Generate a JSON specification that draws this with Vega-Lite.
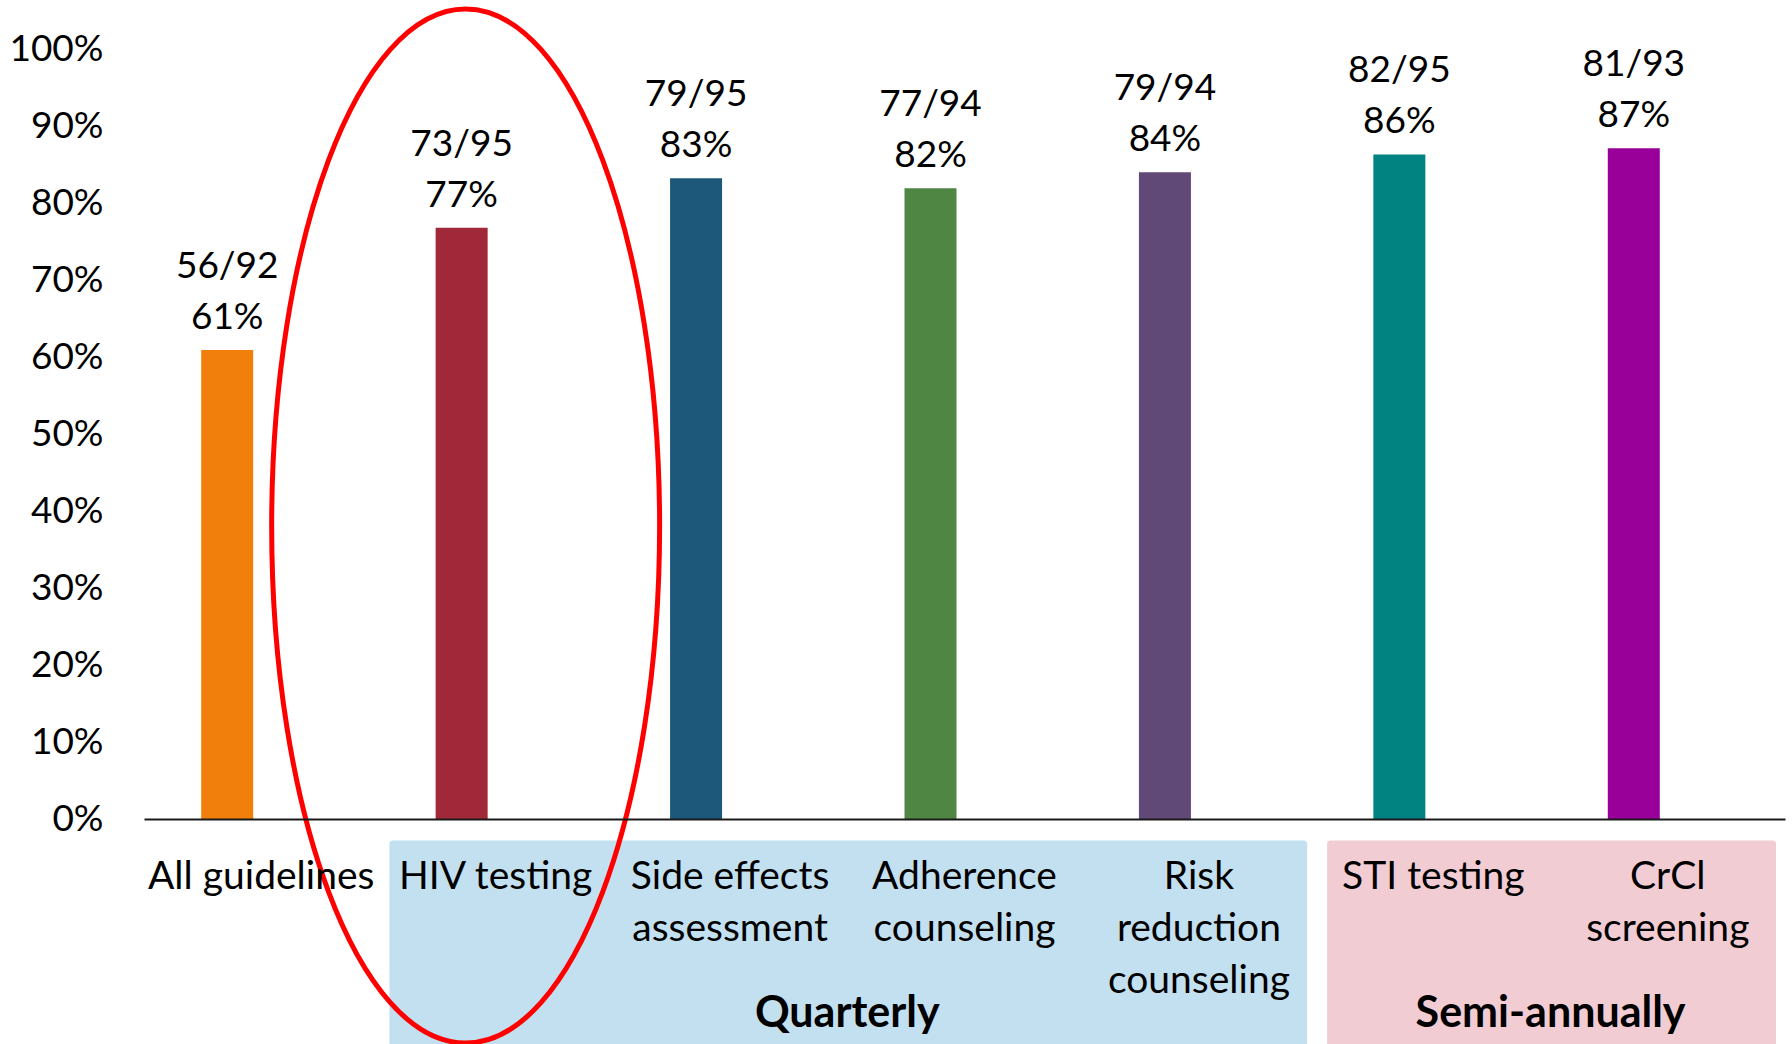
{
  "$schema": "https://vega.github.io/schema/vega-lite/v6.json",
  "autosize": {"type": "none"},
  "padding": {"left": 144, "top": 49, "right": 7, "bottom": 225},
  "width": 1641,
  "height": 770,
  "background": "white",
  "config": {"view": {"stroke": null}, "font": "Lato"},
  "resolve": {"scale": {"color": "independent"}},
  "datasets": {
    "bars": [
      {"cat": "All guidelines", "pct": 60.9, "frac": "56/92", "pctLabel": "61%"},
      {"cat": "HIV testing", "pct": 76.8, "frac": "73/95", "pctLabel": "77%"},
      {"cat": "Side effects assessment", "pct": 83.2, "frac": "79/95", "pctLabel": "83%"},
      {"cat": "Adherence counseling", "pct": 81.9, "frac": "77/94", "pctLabel": "82%"},
      {"cat": "Risk reduction counseling", "pct": 84.0, "frac": "79/94", "pctLabel": "84%"},
      {"cat": "STI testing", "pct": 86.3, "frac": "82/95", "pctLabel": "86%"},
      {"cat": "CrCl screening", "pct": 87.1, "frac": "81/93", "pctLabel": "87%"}
    ],
    "groups": [
      {"group": "Quarterly", "first": "HIV testing", "last": "Risk reduction counseling", "mid": "Side effects assessment"},
      {"group": "Semi-annually", "first": "STI testing", "last": "CrCl screening", "mid": "STI testing"}
    ],
    "highlight": [
      {"cat": "HIV testing"}
    ]
  },
  "layer": [
    {
      "data": {"name": "groups"},
      "mark": {"type": "rect", "xOffset": 11, "x2Offset": -9, "cornerRadius": 3},
      "encoding": {
        "x": {"field": "first", "type": "nominal", "scale": {"type": "band", "domain": ["All guidelines", "HIV testing", "Side effects assessment", "Adherence counseling", "Risk reduction counseling", "STI testing", "CrCl screening"], "paddingInner": 0, "paddingOuter": 0}, "bandPosition": 0},
        "x2": {"field": "last", "bandPosition": 1},
        "y": {"datum": -2.8, "type": "quantitative"},
        "y2": {"datum": -32},
        "fill": {"field": "group", "type": "nominal", "scale": {"domain": ["Quarterly", "Semi-annually"], "range": ["#C3E0F1", "#F2CCD3"]}, "legend": null}
      }
    },
    {
      "data": {"name": "groups"},
      "mark": {"type": "text", "fontSize": 43, "fontWeight": "bold", "font": "Lato", "baseline": "alphabetic", "align": "center", "color": "#000000"},
      "encoding": {
        "x": {"field": "mid", "type": "nominal", "bandPosition": 1},
        "y": {"datum": -27, "type": "quantitative"},
        "text": {"field": "group"}
      }
    },
    {
      "data": {"name": "bars"},
      "mark": {"type": "bar", "width": 52, "xOffset": -34},
      "encoding": {
        "x": {
          "field": "cat", "type": "nominal", "sort": null,
          "axis": {
            "title": null, "orient": "bottom", "zindex": 1,
            "domain": true, "domainColor": "#1a1a1a", "domainWidth": 2,
            "ticks": false, "labelAngle": 0, "labelAlign": "center",
            "labelFont": "Lato", "labelFontSize": 39, "labelColor": "#000000",
            "labelBaseline": "top", "labelPadding": 38, "labelLineHeight": 52,
            "labelLimit": 0,
            "labelExpr": "datum.label == 'Side effects assessment' ? ['Side effects','assessment'] : datum.label == 'Adherence counseling' ? ['Adherence','counseling'] : datum.label == 'Risk reduction counseling' ? ['Risk','reduction','counseling'] : datum.label == 'CrCl screening' ? ['CrCl','screening'] : datum.label"
          }
        },
        "y": {
          "field": "pct", "type": "quantitative",
          "scale": {"domain": [0, 100], "nice": false, "zero": true},
          "axis": {
            "title": null, "domain": false, "ticks": false, "grid": false,
            "values": [0, 10, 20, 30, 40, 50, 60, 70, 80, 90, 100],
            "labelExpr": "datum.value + '%'",
            "labelFont": "Lato", "labelFontSize": 37, "labelColor": "#000000",
            "labelPadding": 41
          }
        },
        "color": {
          "field": "cat", "type": "nominal",
          "scale": {
            "domain": ["All guidelines", "HIV testing", "Side effects assessment", "Adherence counseling", "Risk reduction counseling", "STI testing", "CrCl screening"],
            "range": ["#F0800B", "#A12838", "#1D577A", "#4F8643", "#604877", "#018382", "#990099"]
          },
          "legend": null
        }
      }
    },
    {
      "data": {"name": "bars"},
      "mark": {"type": "text", "fontSize": 37, "font": "Lato", "baseline": "alphabetic", "align": "center", "dy": -21, "xOffset": -34, "color": "#000000"},
      "encoding": {
        "x": {"field": "cat", "type": "nominal", "sort": null},
        "y": {"field": "pct", "type": "quantitative"},
        "text": {"field": "pctLabel"}
      }
    },
    {
      "data": {"name": "bars"},
      "mark": {"type": "text", "fontSize": 37, "font": "Lato", "baseline": "alphabetic", "align": "center", "dy": -72, "xOffset": -34, "color": "#000000"},
      "encoding": {
        "x": {"field": "cat", "type": "nominal", "sort": null},
        "y": {"field": "pct", "type": "quantitative"},
        "text": {"field": "frac"}
      }
    },
    {
      "data": {"name": "highlight"},
      "mark": {"type": "point", "filled": false, "stroke": "#FF0000", "strokeWidth": 5, "opacity": 1, "xOffset": -30, "size": 1069156, "shape": "M -0.3752 0 A 0.3752 1 0 1 1 0.3752 0 A 0.3752 1 0 1 1 -0.3752 0 Z"},
      "encoding": {
        "x": {"field": "cat", "type": "nominal"},
        "y": {"datum": 38.05, "type": "quantitative"}
      }
    }
  ]
}
